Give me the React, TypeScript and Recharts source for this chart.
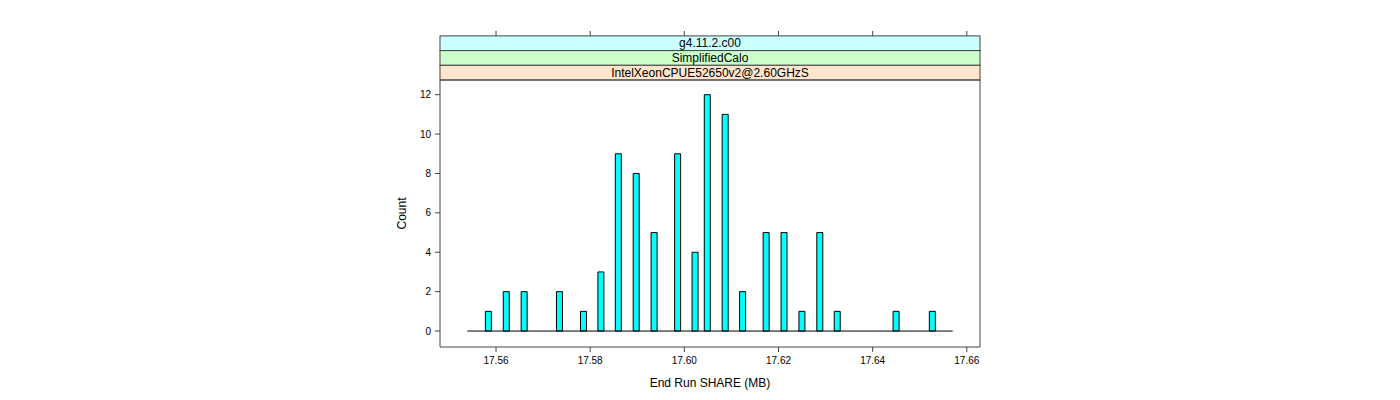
import {
  ComposedChart,
  Bar,
  XAxis,
  YAxis,
  ReferenceLine,
  usePlotArea,
} from "recharts";

// bar centres (MB) and counts
const shareValues = [
  17.5584, 17.5622, 17.566, 17.5735, 17.5786, 17.5823, 17.586, 17.5898,
  17.5936, 17.5986, 17.6023, 17.6049, 17.6087, 17.6124, 17.6174, 17.6212,
  17.625, 17.6288, 17.6325, 17.645, 17.6527,
];
const counts = [1, 2, 2, 2, 1, 3, 9, 8, 5, 9, 4, 12, 11, 2, 5, 5, 1, 5, 1, 1, 1];

const xTicks = [17.56, 17.58, 17.6, 17.62, 17.64, 17.66];
const yTicks = [0, 2, 4, 6, 8, 10, 12];
const xDomain = [17.5481, 17.6628];
const yDomain = [-0.81, 12.745];
const baseline = [17.5539, 17.657];

// strip labels, top to bottom
const stripLabels = ["g4.11.2.c00", "SimplifiedCalo", "IntelXeonCPUE52650v2@2.60GHzS"];
const stripColors = ["#ccffff", "#ccffcc", "#ffe5cc"];

const data = shareValues.map((x, i) => ({ x, count: counts[i] }));

const FONT = "'Liberation Sans', Arial, Helvetica, sans-serif";
const FRAME = "#444";
const STRIP_H = 14.7;

function Strips() {
  const area = usePlotArea();
  if (!area) return null;
  const top = area.y - STRIP_H * stripLabels.length;
  return (
    <g>
      {stripLabels.map((label, i) => (
        <g key={label}>
          <rect
            x={area.x}
            y={top + i * STRIP_H}
            width={area.width}
            height={STRIP_H}
            fill={stripColors[i]}
            stroke={FRAME}
          />
          <text
            x={area.x + area.width / 2}
            y={top + i * STRIP_H + STRIP_H / 2 + 4.2}
            textAnchor="middle"
            fontSize={12}
            fontFamily={FONT}
            fill="#000"
          >
            {label}
          </text>
        </g>
      ))}
    </g>
  );
}

// top axis ticks sit above the strips
const TopTick = (props: { x: number; y: number }) => {
  const stripTop = props.y - STRIP_H * stripLabels.length;
  return (
    <line
      x1={props.x}
      x2={props.x}
      y1={stripTop}
      y2={stripTop - 5}
      stroke={FRAME}
    />
  );
};

export default function App() {
  return (
    <div style={{ position: "absolute", left: 0, top: 0, background: "#fff" }}>
      <ComposedChart
        width={1400}
        height={400}
        data={data}
        margin={{ top: 79, left: 380, right: 360, bottom: 3 }}
      >
        <XAxis
          xAxisId="bottom"
          dataKey="x"
          type="number"
          domain={xDomain}
          ticks={xTicks}
          allowDataOverflow
          tickFormatter={(v: number) => v.toFixed(2)}
          tick={{ fontSize: 10, fill: "#000", fontFamily: FONT }}
          tickSize={5}
          tickMargin={5}
          stroke={FRAME}
          height={50}
          label={{
            value: "End Run SHARE (MB)",
            position: "insideBottom",
            offset: 10,
            fontSize: 12,
            fill: "#000",
            fontFamily: FONT,
          }}
        />
        <XAxis
          xAxisId="top"
          orientation="top"
          dataKey="x"
          type="number"
          domain={xDomain}
          ticks={xTicks}
          allowDataOverflow
          height={1}
          tickSize={0}
          tickMargin={0}
          tickLine={false}
          tick={TopTick}
          stroke={FRAME}
        />
        <YAxis
          yAxisId="left"
          type="number"
          domain={yDomain}
          ticks={yTicks}
          allowDataOverflow
          width={60}
          tick={{ fontSize: 10, fill: "#000", fontFamily: FONT }}
          tickSize={5}
          tickMargin={4}
          stroke={FRAME}
          label={{
            value: "Count",
            angle: -90,
            position: "insideLeft",
            offset: 22,
            fontSize: 12,
            fill: "#000",
            fontFamily: FONT,
            style: { textAnchor: "middle" },
          }}
        />
        <YAxis
          yAxisId="right"
          orientation="right"
          type="number"
          domain={yDomain}
          ticks={yTicks}
          allowDataOverflow
          width={60}
          tick={false}
          tickSize={5}
          stroke={FRAME}
        />
        <Bar
          xAxisId="bottom"
          yAxisId="left"
          dataKey="count"
          barSize={6}
          fill="#00ffff"
          stroke="#000"
          strokeWidth={1}
          isAnimationActive={false}
        />
        <ReferenceLine
          xAxisId="bottom"
          yAxisId="left"
          segment={[
            { x: baseline[0], y: 0 },
            { x: baseline[1], y: 0 },
          ]}
          stroke="#000"
          strokeWidth={1}
        />
        <Strips />
      </ComposedChart>
    </div>
  );
}
